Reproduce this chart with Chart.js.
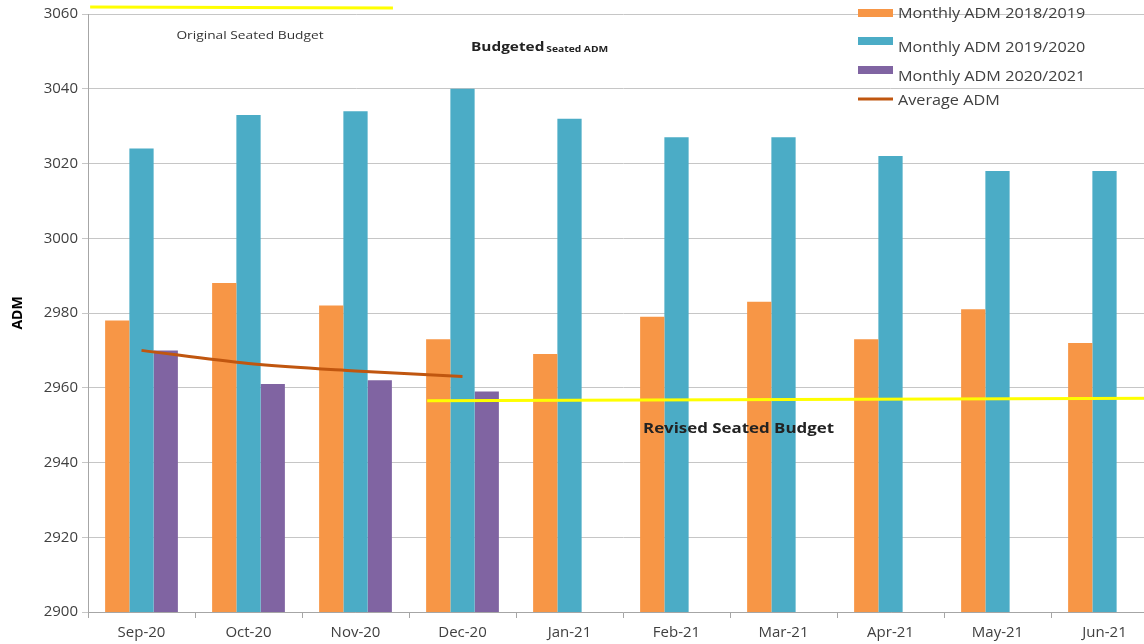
<!DOCTYPE html>
<html>
<head>
<meta charset="utf-8">
<script src="https://cdn.jsdelivr.net/npm/chart.js@4"></script>
<style>
  html, body { margin: 0; padding: 0; background: #fff; overflow: hidden; }
  #wrap { width: 1158px; height: 644px; }
</style>
</head>
<body>
<div id="wrap"><canvas id="chart"></canvas></div>
<script>
const months = ['Sep-20', 'Oct-20', 'Nov-20', 'Dec-20', 'Jan-21', 'Feb-21', 'Mar-21', 'Apr-21', 'May-21', 'Jun-21'];
const adm1819 = [2978, 2988, 2982, 2973, 2969, 2979, 2983, 2973, 2981, 2972];
const adm1920 = [3024, 3033, 3034, 3040, 3032, 3027, 3027, 3022, 3018, 3018];
const adm2021 = [2970, 2961, 2962, 2959, null, null, null, null, null, null];
const avgAdm = [2970, 2966.5, 2964.5, 2963, null, null, null, null, null, null];

// budget lines, x in category-index units
const originalBudgetX = [-0.48, 2.35];
const originalBudgetY = [3061.9, 3061.6];
const revisedBudgetX = [2.67, 9.6];
const revisedBudgetY = [2956.5, 2957.2];

const yMin = 2900, yMax = 3060, yStep = 20;

const FONT = "'Open Sans', 'Liberation Sans', sans-serif";
const grey = '#404040';

// lines are given as pre-parsed {x, y} so fractional category positions work
const toPoints = (xs, ys) => xs.map((x, i) => ({ x: x, y: ys[i] }));
const avgPoints = avgAdm.map((v, i) => ({ x: i, y: v })).filter(p => p.y !== null);

const legendItems = [
    { label: 'Monthly ADM 2018/2019', color: '#F79646', kind: 'box' },
    { label: 'Monthly ADM 2019/2020', color: '#4BACC6', kind: 'box' },
    { label: 'Monthly ADM 2020/2021', color: '#8064A2', kind: 'box' },
    { label: 'Average ADM', color: '#C0560F', kind: 'line' }
];

// text drawn a bit wider than normal, like the stretched original
function wideText(c, text, x, y, sx) {
    c.save();
    c.translate(x, y);
    c.scale(sx, 1);
    c.fillText(text, 0, 0);
    c.restore();
}

const overlay = {
    id: 'overlay',
    afterDraw(chart) {
        const c = chart.ctx;
        c.save();
        c.textBaseline = 'middle';
        // legend
        const swY = [13, 41, 70, 99];
        const txY = [14, 48, 77, 101];
        legendItems.forEach((it, i) => {
            c.fillStyle = it.color;
            if (it.kind === 'box') c.fillRect(858, swY[i] - 4, 35, 8);
            else c.fillRect(858, swY[i] - 1.5, 35, 3);
            c.fillStyle = grey;
            c.font = '15px ' + FONT;
            c.textAlign = 'left';
            wideText(c, it.label, 898, txY[i], 1.08);
        });

        // annotations
        c.fillStyle = '#333';
        c.font = '11px ' + FONT;
        c.textAlign = 'center';
        wideText(c, 'Original Seated Budget', 250, 36, 1.25);

        c.textAlign = 'left';
        c.fillStyle = '#222';
        c.font = 'bold 12px ' + FONT;
        wideText(c, 'Budgeted', 471, 48, 1.28);
        const w = c.measureText('Budgeted').width * 1.28;
        c.font = 'bold 8px ' + FONT;
        wideText(c, 'Seated ADM', 471 + w + 2, 50, 1.28);

        c.font = 'bold 13.5px ' + FONT;
        wideText(c, 'Revised Seated Budget', 643, 429, 1.25);
        c.restore();
    }
};

const ctx = document.getElementById('chart').getContext('2d');

new Chart(ctx, {
    type: 'bar',
    data: {
        labels: months,
        datasets: [
            { label: 'Monthly ADM 2018/2019', data: adm1819, backgroundColor: '#F79646', order: 2 },
            { label: 'Monthly ADM 2019/2020', data: adm1920, backgroundColor: '#4BACC6', order: 2 },
            { label: 'Monthly ADM 2020/2021', data: adm2021, backgroundColor: '#8064A2', order: 2 },
            { type: 'line', label: 'Average ADM', data: avgPoints, parsing: false, borderColor: '#C0560F', borderWidth: 3,
              pointRadius: 0, tension: 0.35, order: 1 },
            { type: 'line', label: 'Original Seated Budget', data: toPoints(originalBudgetX, originalBudgetY), parsing: false,
              borderColor: '#FFFF00', borderWidth: 3, pointRadius: 0, clip: false, order: 1 },
            { type: 'line', label: 'Revised Seated Budget', data: toPoints(revisedBudgetX, revisedBudgetY), parsing: false,
              borderColor: '#FFFF00', borderWidth: 3, pointRadius: 0, clip: false, order: 1 }
        ]
    },
    options: {
        responsive: true,
        maintainAspectRatio: false,
        animation: false,
        layout: { padding: { top: 14, left: 0, right: 0, bottom: 0 } },
        datasets: { bar: { categoryPercentage: 0.68, barPercentage: 1.0 } },
        plugins: { legend: { display: false }, tooltip: { enabled: false } },
        scales: {
            x: {
                offset: true,
                grid: { drawOnChartArea: false, drawTicks: true, tickLength: 6, color: '#a6a6a6' },
                border: { color: '#a6a6a6' },
                ticks: { color: grey, font: { family: FONT, size: 15 }, padding: 6, maxRotation: 0, autoSkip: false },
                afterFit(s) { s.height = 32; }
            },
            y: {
                min: yMin, max: yMax,
                ticks: { stepSize: yStep, color: grey, font: { family: FONT, size: 15 }, padding: 4,
                         callback: v => String(v) },
                grid: { color: '#c6c6c6', tickLength: 6 },
                border: { color: '#a6a6a6' },
                title: { display: true, text: 'ADM', color: '#000', font: { family: FONT, size: 14, weight: 'bold' }, padding: { top: 10, bottom: 0 } },
                afterFit(s) { s.width = 88; }
            }
        }
    },
    plugins: [overlay]
});
</script>
</body>
</html>
